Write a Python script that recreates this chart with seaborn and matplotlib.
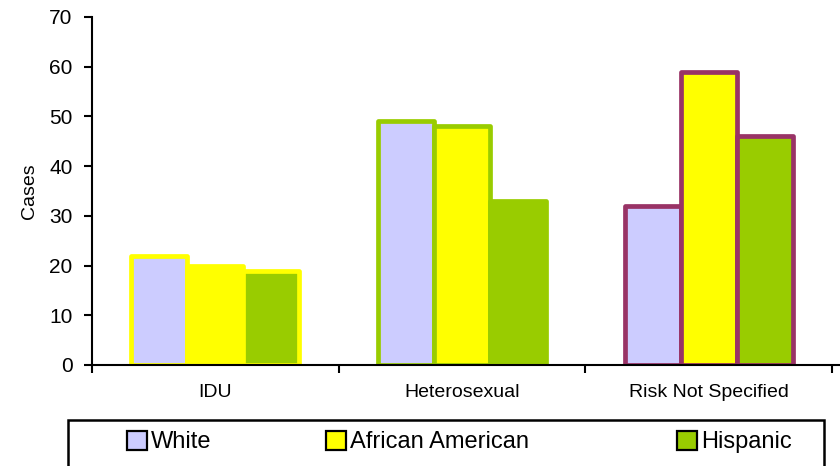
import numpy as np
import pandas as pd
import seaborn as sns
import matplotlib.pyplot as plt
from matplotlib.patches import Patch, Rectangle

######################################
### Data

categories = ['IDU', 'Heterosexual', 'Risk Not Specified']
groups = ['White', 'African American', 'Hispanic']
white_cases = [22, 49, 32]
african_american_cases = [20, 48, 59]
hispanic_cases = [19, 33, 46]

fill_colours = ['#CCCCFF', '#FFFF00', '#99CC00']
edge_colours = ['#FFFF00', '#99CC00', '#993366']

df = pd.DataFrame({'Risk': categories * 3,
                   'Race': np.repeat(groups, 3),
                   'Cases': white_cases + african_american_cases + hispanic_cases})

######################################
### Plot

sns.set_style('ticks', {'axes.edgecolor': 'black', 'text.color': 'black',
                        'xtick.color': 'black', 'ytick.color': 'black', 'axes.labelcolor': 'black'})
plt.rcParams['font.family'] = ['Liberation Sans', 'DejaVu Sans']

fig = plt.figure(figsize=(8.4, 4.66), dpi=100)
ax = fig.add_axes([92/840, 1 - 365/466, (832 - 92)/840, (365 - 17)/466])

sns.barplot(x='Risk', y='Cases', hue='Race', data=df, order=categories, hue_order=groups,
            palette=fill_colours, width=0.68, saturation=1, legend=False, ax=ax)

# each risk group gets its own edge colour
for cont in ax.containers:
    for j, bar in enumerate(cont):
        bar.set_edgecolor(edge_colours[j])
        bar.set_linewidth(3.4)
        bar.set_joinstyle('round')

ax.set_ylim(0, 70)
ax.set_yticks(range(0, 71, 10))
ax.set_xlim(-0.5, 2.5)
ax.set_xticks([0, 1, 2])
ax.set_xticks([-0.5, 0.5, 1.5, 2.5], minor=True)
ax.tick_params(axis='x', which='major', length=0, pad=14, labelsize=14)
ax.tick_params(axis='x', which='minor', length=6, width=1.5, direction='out')
ax.tick_params(axis='y', length=6, width=1.5, pad=8, labelsize=15)
ax.set_xlabel('')
ax.set_ylabel('Cases', fontsize=14, labelpad=8)
sns.despine(ax=ax)
for s in ['left', 'bottom']:
    ax.spines[s].set_linewidth(1.5)
ax.spines['bottom'].set_bounds(-0.5, 2.55)

## Legend box at the bottom
fig.patches.append(Rectangle((68/840, -0.05), 0.9, 1 - 420/466 + 0.05, transform=fig.transFigure,
                             fill=False, edgecolor='black', linewidth=1.8, zorder=5))
legend_x = [116, 315, 666]
for name, col, lx in zip(groups, fill_colours, legend_x):
    h = Patch(facecolor=col, edgecolor='black', linewidth=1.6)
    fig.legend(handles=[h], labels=[name], loc='center left', bbox_to_anchor=(lx/840 - 0.012, 1 - 442/466),
               frameon=False, fontsize=17, handlelength=0.85, handleheight=0.85, handletextpad=0.15)

fig.savefig('out.png', dpi=100)
